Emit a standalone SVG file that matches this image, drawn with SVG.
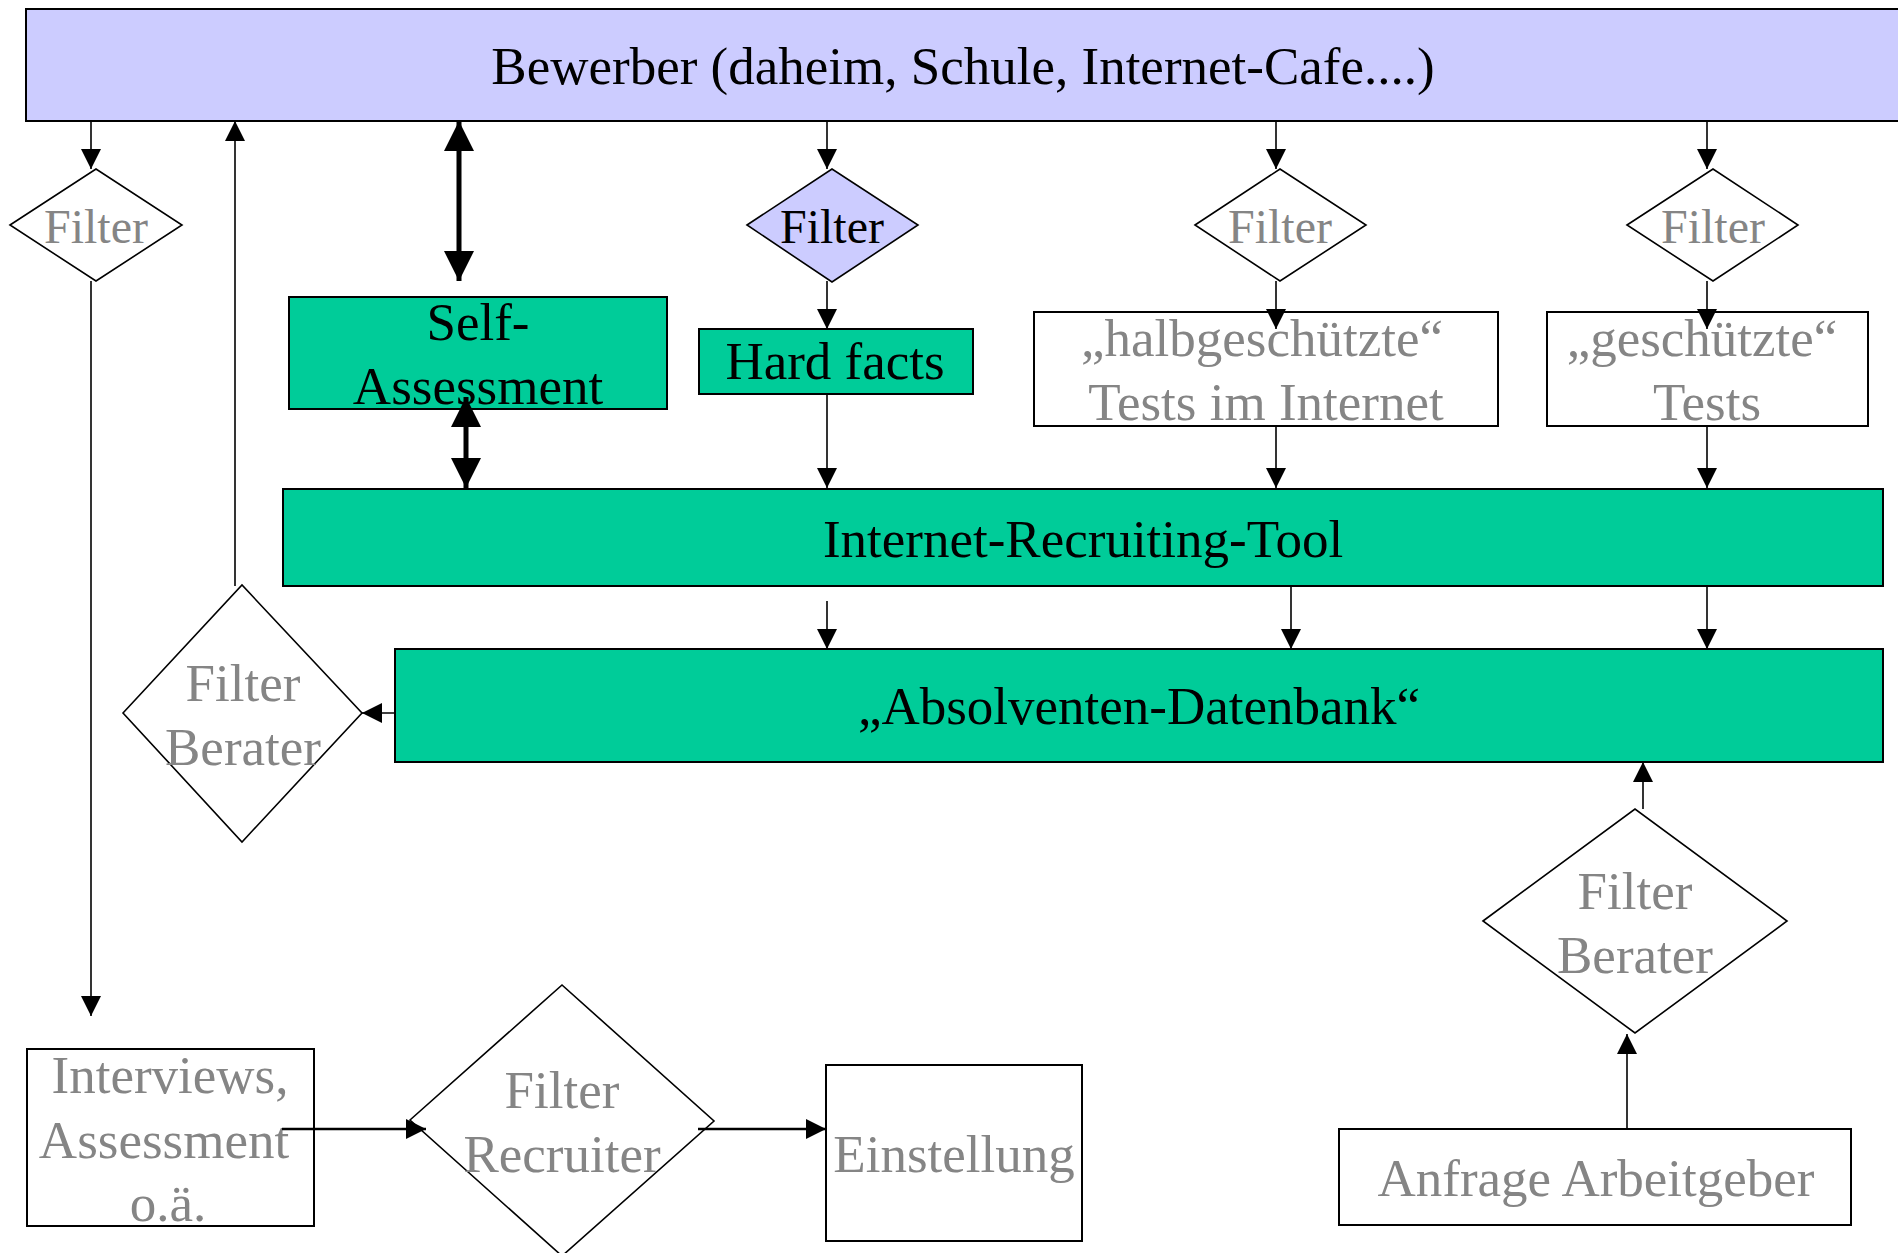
<svg xmlns="http://www.w3.org/2000/svg" width="1898" height="1253" viewBox="0 0 1898 1253">
  <style>
    .box { stroke: #000; stroke-width: 2; }
    .dia { stroke: #000; stroke-width: 1.6; fill: #fff; }
    .blue { fill: #CCCCFF; }
    .green { fill: #00CC99; }
    .white { fill: #fff; }
    text { font-family: "Liberation Serif", "Times New Roman", serif; text-anchor: middle; }
    .t { font-size: 53px; fill: #000; }
    .g { font-size: 53px; fill: #858585; }
    .ts { font-size: 48px; fill: #000; }
    .gs { font-size: 48px; fill: #858585; }
    .c { stroke: #000; stroke-width: 1.6; fill: none; marker-end: url(#arr); }
    .cw { stroke: #000; stroke-width: 2.6; fill: none; marker-end: url(#arr); }
    .cb { stroke: #000; stroke-width: 5; fill: none; marker-start: url(#arrBig); marker-end: url(#arrBig); }
  </style>
  <defs>
    <marker id="arr" markerUnits="userSpaceOnUse" markerWidth="20" markerHeight="20" viewBox="0 0 20 20" refX="20" refY="10" orient="auto-start-reverse">
      <path d="M0,0 L20,10 L0,20 z" fill="#000"/>
    </marker>
    <marker id="arrBig" markerUnits="userSpaceOnUse" markerWidth="30" markerHeight="30" viewBox="0 0 30 30" refX="30" refY="15" orient="auto-start-reverse">
      <path d="M0,0 L30,15 L0,30 z" fill="#000"/>
    </marker>
  </defs>

  <g id="bewerber">
    <rect class="box blue" x="26" y="9" width="1880" height="112"/>
    <text class="t" x="963" y="84">Bewerber (daheim, Schule, Internet-Cafe....)</text>
  </g>

  <g id="filter1">
    <polygon class="dia" points="10,225 96,169 182,225 96,281"/>
    <text class="gs" x="96" y="243">Filter</text>
  </g>

  <g id="self-assessment">
    <rect class="box green" x="289" y="297" width="378" height="112"/>
    <text class="t" x="478" y="340">Self-</text>
    <text class="t" x="478" y="404">Assessment</text>
  </g>

  <g id="filter2">
    <polygon class="dia blue" points="747,225 832,169 918,225 832,282"/>
    <text class="ts" x="832" y="243">Filter</text>
  </g>

  <g id="hard-facts">
    <rect class="box green" x="699" y="329" width="274" height="65"/>
    <text class="t" x="835" y="379">Hard facts</text>
  </g>

  <g id="filter3">
    <polygon class="dia" points="1195,225 1280,169 1366,225 1280,281"/>
    <text class="gs" x="1280" y="243">Filter</text>
  </g>

  <g id="halbgeschuetzte-tests">
    <rect class="box white" x="1034" y="312" width="464" height="114"/>
    <text class="g" x="1262" y="356">„halbgeschützte“</text>
    <text class="g" x="1266" y="420">Tests im Internet</text>
  </g>

  <g id="filter4">
    <polygon class="dia" points="1627,225 1713,169 1798,225 1713,281"/>
    <text class="gs" x="1713" y="243">Filter</text>
  </g>

  <g id="geschuetzte-tests">
    <rect class="box white" x="1547" y="312" width="321" height="114"/>
    <text class="g" x="1702" y="356">„geschützte“</text>
    <text class="g" x="1707" y="420">Tests</text>
  </g>

  <g id="recruiting-tool">
    <rect class="box green" x="283" y="489" width="1600" height="97"/>
    <text class="t" x="1083" y="557">Internet-Recruiting-Tool</text>
  </g>

  <g id="absolventen-datenbank">
    <rect class="box green" x="395" y="649" width="1488" height="113"/>
    <text class="t" x="1139" y="724">„Absolventen-Datenbank“</text>
  </g>

  <g id="filter-berater-left">
    <polygon class="dia" points="123,713 242,585 362,713 242,842"/>
    <text class="g" x="243" y="701">Filter</text>
    <text class="g" x="243" y="765">Berater</text>
  </g>

  <g id="filter-berater-right">
    <polygon class="dia" points="1483,921 1635,809 1787,921 1635,1033"/>
    <text class="g" x="1635" y="909">Filter</text>
    <text class="g" x="1635" y="973">Berater</text>
  </g>

  <g id="anfrage-arbeitgeber">
    <rect class="box white" x="1339" y="1129" width="512" height="96"/>
    <text class="g" x="1596" y="1196">Anfrage Arbeitgeber</text>
  </g>

  <g id="interviews">
    <rect class="box white" x="27" y="1049" width="287" height="177"/>
    <text class="g" x="170" y="1093">Interviews,</text>
    <text class="g" x="164" y="1158">Assessment</text>
    <text class="g" x="168" y="1221">o.ä.</text>
  </g>

  <g id="filter-recruiter">
    <polygon class="dia" points="410,1120 562,985 714,1121 562,1256"/>
    <text class="g" x="562" y="1108">Filter</text>
    <text class="g" x="562" y="1172">Recruiter</text>
  </g>

  <g id="einstellung">
    <rect class="box white" x="826" y="1065" width="256" height="176"/>
    <text class="g" x="954" y="1172">Einstellung</text>
  </g>

  <g id="connectors">
    <line class="c" x1="91" y1="121" x2="91" y2="169"/>
    <line class="c" x1="91" y1="281" x2="91" y2="1016"/>
    <line class="c" x1="235" y1="586" x2="235" y2="121"/>
    <line class="cb" x1="459" y1="121" x2="459" y2="281"/>
    <line class="cb" x1="466" y1="397" x2="466" y2="488"/>
    <line class="c" x1="827" y1="121" x2="827" y2="169"/>
    <line class="c" x1="827" y1="281" x2="827" y2="329"/>
    <line class="c" x1="827" y1="394" x2="827" y2="488"/>
    <line class="c" x1="1276" y1="121" x2="1276" y2="169"/>
    <line class="c" x1="1276" y1="281" x2="1276" y2="329"/>
    <line class="c" x1="1276" y1="426" x2="1276" y2="488"/>
    <line class="c" x1="1707" y1="121" x2="1707" y2="169"/>
    <line class="c" x1="1707" y1="281" x2="1707" y2="329"/>
    <line class="c" x1="1707" y1="426" x2="1707" y2="488"/>
    <line class="c" x1="827" y1="601" x2="827" y2="649"/>
    <line class="c" x1="1291" y1="586" x2="1291" y2="649"/>
    <line class="c" x1="1707" y1="586" x2="1707" y2="649"/>
    <line class="c" x1="395" y1="713" x2="362" y2="713"/>
    <line class="c" x1="1643" y1="809" x2="1643" y2="762"/>
    <line class="c" x1="1627" y1="1129" x2="1627" y2="1034"/>
    <line class="cw" x1="282" y1="1129" x2="426" y2="1129"/>
    <line class="cw" x1="698" y1="1129" x2="826" y2="1129"/>
  </g>
</svg>
